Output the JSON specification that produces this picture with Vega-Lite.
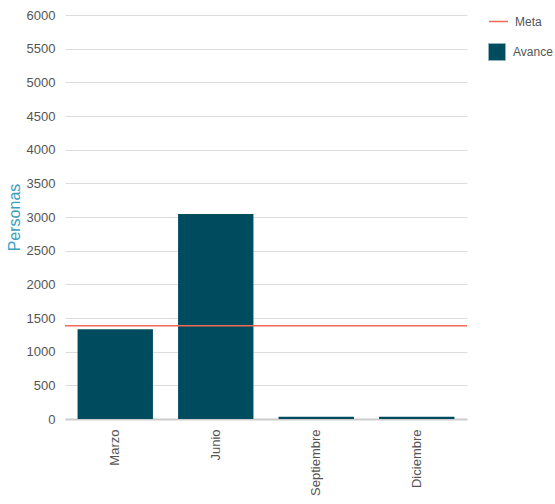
{
  "$schema": "https://vega.github.io/schema/vega-lite/v6.json",
  "width": 402,
  "height": 404,
  "autosize": "none",
  "padding": {"left": 65, "top": 15, "right": 88, "bottom": 85},
  "background": "white",
  "config": {
    "font": "Liberation Sans",
    "view": {"stroke": null},
    "axis": {"labelFont": "Liberation Sans", "labelFontSize": 13, "labelColor": "#555555", "gridColor": "#dddddd", "domain": false, "ticks": false}
  },
  "datasets": {
    "avance": [
      {"mes": "Marzo", "valor": 1333, "serie": "Avance"},
      {"mes": "Junio", "valor": 3046, "serie": "Avance"},
      {"mes": "Septiembre", "valor": 35, "serie": "Avance"},
      {"mes": "Diciembre", "valor": 35, "serie": "Avance"}
    ],
    "meta": [
      {"valor": 1385, "serie": "Meta"}
    ]
  },
  "layer": [
    {
      "data": {"name": "avance"},
      "mark": {"type": "bar", "color": "#004c5f"},
      "encoding": {
        "x": {
          "field": "mes", "type": "nominal", "sort": null, "title": null,
          "scale": {"paddingInner": 0.25, "paddingOuter": 0.125},
          "axis": {"labelAngle": 270, "labelPadding": 10, "domain": true, "domainColor": "#cccccc", "domainWidth": 2}
        },
        "y": {
          "field": "valor", "type": "quantitative", "title": "Personas",
          "scale": {"domain": [0, 6000], "nice": false},
          "axis": {"values": [0, 500, 1000, 1500, 2000, 2500, 3000, 3500, 4000, 4500, 5000, 5500, 6000], "tickCount": 20, "format": "d", "labelOverlap": false, "labelPadding": 10, "titleColor": "#3a9fc0", "titleFontSize": 16, "titleFontWeight": "normal", "titlePadding": 4}
        },
        "fill": {
          "field": "serie", "type": "nominal", "scale": {"range": ["#004c5f"]},
          "legend": {"title": null, "orient": "none", "legendX": 423, "legendY": 28, "symbolType": "square", "symbolSize": 289, "symbolStrokeColor": "#8fb3bd", "symbolStrokeWidth": 1, "symbolOpacity": 1, "labelFontSize": 12, "labelColor": "#555555", "labelOffset": 7}
        }
      }
    },
    {
      "data": {"name": "meta"},
      "mark": {"type": "rule", "strokeWidth": 1.5},
      "encoding": {
        "y": {
          "field": "valor", "type": "quantitative", "title": "Personas",
          "axis": {"values": [0, 500, 1000, 1500, 2000, 2500, 3000, 3500, 4000, 4500, 5000, 5500, 6000], "tickCount": 20, "format": "d", "labelOverlap": false, "labelPadding": 10, "titleColor": "#3a9fc0", "titleFontSize": 16, "titleFontWeight": "normal", "titlePadding": 4}
        },
        "stroke": {
          "field": "serie", "type": "nominal", "scale": {"range": ["#f06a55"]},
          "legend": {"title": null, "orient": "none", "legendX": 423, "legendY": -4, "symbolType": "stroke", "symbolSize": 361, "symbolStrokeWidth": 1.5, "labelFontSize": 12, "labelColor": "#555555", "labelOffset": 6}
        }
      }
    }
  ]
}
